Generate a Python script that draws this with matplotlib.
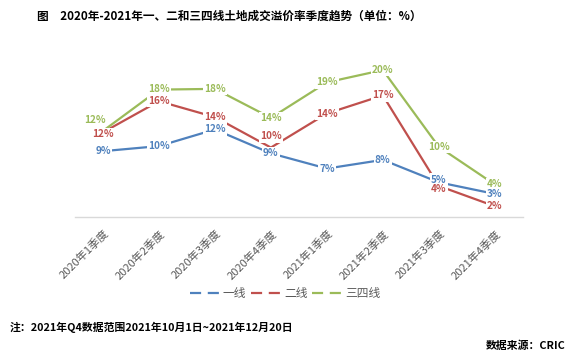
import matplotlib
matplotlib.use("Agg")
import matplotlib.pyplot as plt
from matplotlib.lines import Line2D

plt.rcParams['font.family'] = ['Noto Sans CJK SC', 'DejaVu Sans']

quarters = ["2020年1季度", "2020年2季度", "2020年3季度", "2020年4季度",
            "2021年1季度", "2021年2季度", "2021年3季度", "2021年4季度"]
tier1 = [9.1, 9.8, 12.1, 8.8, 6.7, 7.9, 4.8, 3.2]
tier2 = [11.7, 16.0, 13.8, 9.6, 14.3, 16.8, 4.3, 1.5]
tier34 = [11.9, 17.6, 17.7, 13.7, 18.6, 20.3, 9.7, 4.5]
labels1 = ["9%", "10%", "12%", "9%", "7%", "8%", "5%", "3%"]
labels2 = ["12%", "16%", "14%", "10%", "14%", "17%", "4%", "2%"]
labels34 = ["12%", "18%", "18%", "14%", "19%", "20%", "10%", "4%"]
names = ["一线", "二线", "三四线"]

colors = ["#4F81BD", "#C0504D", "#9BBB59"]
label_z = [6, 7, 5]
# label nudges in points (series index, point index) -> (dx, dy)
nudge = {(2, 0): (-6, 8), (1, 0): (0, -1.5), (2, 1): (0, 0.5), (1, 3): (0, 8),
         (0, 6): (0, 2), (1, 6): (0, -2)}

fig = plt.figure(figsize=(5.77, 3.6), dpi=100)
ax = fig.add_axes([0.13, 0.397, 0.776, 0.503])

x = range(len(quarters))
series = [(tier1, labels1), (tier2, labels2), (tier34, labels34)]
for i, (vals, labs) in enumerate(series):
    ax.plot(x, vals, color=colors[i], lw=1.6, zorder=2)
for i, (vals, labs) in enumerate(series):
    for j, (v, t) in enumerate(zip(vals, labs)):
        dx, dy = nudge.get((i, j), (0, 0))
        ax.annotate(t, (j, v), xytext=(dx, dy), textcoords='offset points',
                    ha='center', va='center', fontsize=7.2, fontweight='bold',
                    color=colors[i], zorder=label_z[i],
                    bbox=dict(boxstyle='square,pad=0.12', fc='white', ec='none'))

ax.set_xlim(-0.5, len(quarters) - 0.5)
ax.set_ylim(0, 25)
ax.set_yticks([])
for s in ["top", "right", "left"]:
    ax.spines[s].set_visible(False)
ax.spines["bottom"].set_color("#D9D9D9")
ax.spines["bottom"].set_linewidth(1)
ax.set_xticks(list(x))
ax.set_xticklabels(quarters, rotation=45, ha='right', rotation_mode='anchor',
                   fontsize=8, color="#595959")
ax.tick_params(axis='x', length=0, pad=8)

handles = [Line2D([], [], color=c, lw=1.6, dashes=(5, 3)) for c in colors]
fig.legend(handles, names, loc='center', bbox_to_anchor=(285 / 577, 1 - 294 / 360),
           ncol=3, frameon=False, fontsize=8.5, handlelength=2.5, handletextpad=0.3,
           columnspacing=0.4, labelcolor="#595959")

fig.text(37 / 577, 1 - 16 / 360, "图　2020年-2021年一、二和三四线土地成交溢价率季度趋势（单位：%）",
         fontsize=8.4, fontweight='bold', va='center', ha='left')
fig.text(10 / 577, 1 - 327 / 360, "注：2021年Q4数据范围2021年10月1日~2021年12月20日",
         fontsize=7.8, fontweight='bold', va='center', ha='left')
fig.text(566 / 577, 1 - 346 / 360, "数据来源：CRIC",
         fontsize=7.8, fontweight='bold', va='center', ha='right')

fig.savefig("out.png", dpi=100)
